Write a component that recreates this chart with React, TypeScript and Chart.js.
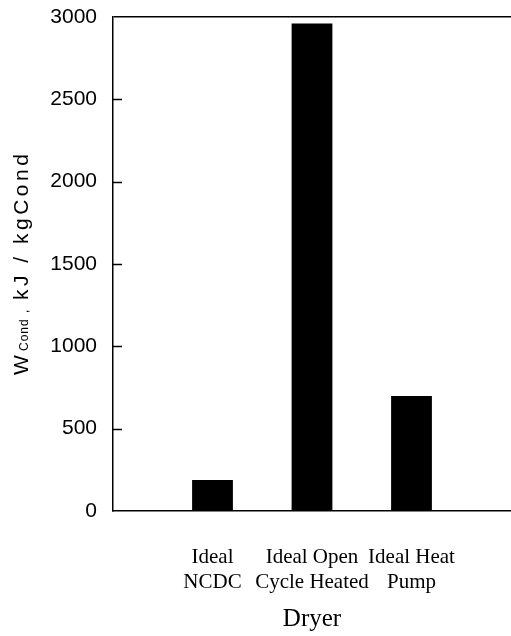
import React, { useEffect, useRef } from "react";
import { Chart, registerables } from "chart.js";

Chart.register(...registerables);

const categories: (string | string[])[] = [
  "",
  ["Ideal", "NCDC"],
  ["Ideal Open", "Cycle Heated"],
  ["Ideal Heat", "Pump"],
  "",
];
const values: (number | null)[] = [null, 188, 2960, 698, null];
const yMin = 0;
const yMax = 3000;
const yStep = 500;
const xTitle = "Dryer";
const yTitleMain = "W";
const yTitleSub = "Cond";
const yTitleRest = "kJ / kgCond";

const W = 511;
const H = 636;

const axisPlugin = {
  id: "customAxis",
  afterDraw(chart: any) {
    const { ctx, scales } = chart;
    const y = scales.y;
    const left = chart.chartArea.left;
    ctx.save();
    ctx.strokeStyle = "#000";
    ctx.lineWidth = 1.5;
    y.ticks.forEach((t: any) => {
      if (t.value === yMin || t.value === yMax) return;
      const py = Math.round(y.getPixelForValue(t.value)) + 0.5;
      ctx.beginPath();
      ctx.moveTo(left, py);
      ctx.lineTo(left + 9, py);
      ctx.stroke();
    });
    ctx.restore();

    // y title with subscript
    ctx.save();
    ctx.translate(28, 375);
    ctx.rotate(-Math.PI / 2);
    ctx.fillStyle = "#000";
    ctx.textBaseline = "alphabetic";
    ctx.textAlign = "left";
    ctx.font = "21px 'Liberation Sans', Arial, sans-serif";
    (ctx as any).letterSpacing = "3.5px";
    ctx.fillText(yTitleMain, 0, 0);
    ctx.font = "12px 'Liberation Sans', Arial, sans-serif";
    (ctx as any).letterSpacing = "1px";
    ctx.fillText(yTitleSub, 24, 0);
    ctx.fillText(",", 62, 0);
    ctx.font = "21px 'Liberation Sans', Arial, sans-serif";
    (ctx as any).letterSpacing = "3.5px";
    ctx.fillText(yTitleRest, 75, 0);
    ctx.restore();
  },
};

export default function App() {
  const ref = useRef<HTMLCanvasElement | null>(null);
  useEffect(() => {
    if (!ref.current) return;
    const chart = new Chart(ref.current, {
      type: "bar",
      data: {
        labels: categories as any,
        datasets: [
          {
            data: values as any,
            backgroundColor: "#000",
            borderWidth: 0,
            barPercentage: 0.41,
            categoryPercentage: 1,
          },
        ],
      },
      options: {
        animation: false,
        responsive: false,
        maintainAspectRatio: false,
        devicePixelRatio: 1,
        layout: { padding: { top: 17, right: 0, left: 0, bottom: 0 } },
        plugins: {
          legend: { display: false },
          tooltip: { enabled: false },
        },
        scales: {
          x: {
            type: "category",
            offset: false,
            grid: { display: false, drawTicks: false },
            border: { display: true, color: "#000", width: 1.5 },
            ticks: {
              autoSkip: false,
              maxRotation: 0,
              minRotation: 0,
              padding: 34,
              color: "#000",
              font: { family: "'Liberation Serif', 'Times New Roman', serif", size: 21, lineHeight: 1.19 },
            },
            title: {
              display: true,
              text: xTitle,
              color: "#000",
              padding: { top: 0, bottom: 2 },
              font: { family: "'Liberation Serif', 'Times New Roman', serif", size: 25 },
            },
            afterFit(scale: any) {
              scale.height = 125;
              scale.paddingLeft = 0;
              scale.paddingRight = 0;
            },
          },
          y: {
            min: yMin,
            max: yMax,
            grid: {
              drawTicks: false,
              lineWidth: 1.5,
              color: (c: any) => (c.tick && c.tick.value === yMax ? "#000" : "rgba(0,0,0,0)"),
            },
            border: { display: true, color: "#000", width: 1.5 },
            ticks: {
              stepSize: yStep,
              padding: 16,
              color: "#000",
              callback: (v: any) => String(v),
              font: { family: "'Liberation Sans', Arial, sans-serif", size: 21 },
            },
            afterFit(scale: any) {
              scale.width = 113;
              scale.paddingTop = 0;
              scale.paddingBottom = 0;
            },
          },
        },
      },
      plugins: [axisPlugin],
    });
    return () => chart.destroy();
  }, []);
  return (
    <div style={{ position: "fixed", left: 0, top: 0, width: W, height: H, background: "#fff" }}>
      <canvas ref={ref} width={W} height={H} style={{ display: "block" }} />
    </div>
  );
}
